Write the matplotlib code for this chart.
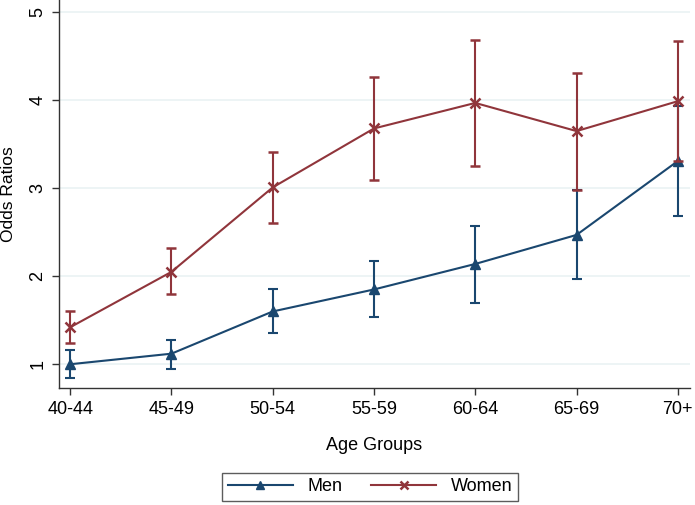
import matplotlib
matplotlib.use("Agg")
import matplotlib.pyplot as plt
from matplotlib.lines import Line2D
import numpy as np

plt.rcParams['font.family'] = ['Liberation Sans', 'DejaVu Sans']

age_groups = ['40-44', '45-49', '50-54', '55-59', '60-64', '65-69', '70+']

men_or = [1.00, 1.12, 1.60, 1.85, 2.14, 2.47, 3.31]
men_lo = [0.84, 0.95, 1.35, 1.54, 1.70, 1.97, 2.69]
men_hi = [1.16, 1.28, 1.85, 2.17, 2.57, 2.98, 3.94]

women_or = [1.42, 2.05, 3.01, 3.68, 3.97, 3.65, 3.99]
women_lo = [1.24, 1.80, 2.60, 3.09, 3.25, 2.98, 3.31]
women_hi = [1.61, 2.32, 3.41, 4.27, 4.69, 4.31, 4.67]

men_color = '#1a476f'
women_color = '#90353b'

x = np.arange(len(age_groups))

fig = plt.figure(figsize=(6.95, 5.05), dpi=100)
ax = fig.add_axes([59 / 695, 1 - 388 / 505, (690 - 59) / 695, 388 / 505])

for v in [1, 2, 3, 4, 5]:
    ax.axhline(v, color='#eaf2f3', lw=1.2, zorder=0)

men_err = [np.array(men_or) - np.array(men_lo), np.array(men_hi) - np.array(men_or)]
women_err = [np.array(women_or) - np.array(women_lo), np.array(women_hi) - np.array(women_or)]

ax.errorbar(x, men_or, yerr=men_err, color=men_color, lw=1.5, elinewidth=1.5,
            capsize=3.5, capthick=1.5, marker='^', ms=7, zorder=3)
ax.errorbar(x, women_or, yerr=women_err, color=women_color, lw=1.5, elinewidth=1.5,
            capsize=3.5, capthick=1.5, marker='x', ms=7, mew=1.8, zorder=4)

ax.set_xlim(-0.11, 6.12)
ax.set_ylim(0.73, 5.14)
ax.set_xticks(x)
ax.set_xticklabels(age_groups, fontsize=13)
ax.set_yticks([1, 2, 3, 4, 5])
ax.set_yticklabels(['1', '2', '3', '4', '5'], fontsize=13, rotation=90, va='center')
ax.tick_params(direction='out', length=5, width=1, color='#333333', pad=4)

for s in ['top', 'right']:
    ax.spines[s].set_visible(False)
for s in ['left', 'bottom']:
    ax.spines[s].set_color('#333333')
    ax.spines[s].set_linewidth(1.0)

ax.set_xlabel('Age Groups', fontsize=13, labelpad=14)
ax.set_ylabel('Odds Ratios', fontsize=12.5, labelpad=10)

handles = [
    Line2D([], [], color=men_color, lw=1.5, marker='^', ms=6),
    Line2D([], [], color=women_color, lw=1.5, marker='x', ms=6, mew=1.8),
]
leg = fig.legend(handles, ['Men', 'Women'], loc='upper center',
                 bbox_to_anchor=(370 / 695, 1 - 473 / 505), ncol=2,
                 fontsize=13, frameon=True, fancybox=False, edgecolor='#333333',
                 handlelength=3.6, columnspacing=1.6, borderpad=0.3,
                 handletextpad=0.8, borderaxespad=0)
leg.get_frame().set_linewidth(1.0)

fig.savefig('out.png', dpi=100)
